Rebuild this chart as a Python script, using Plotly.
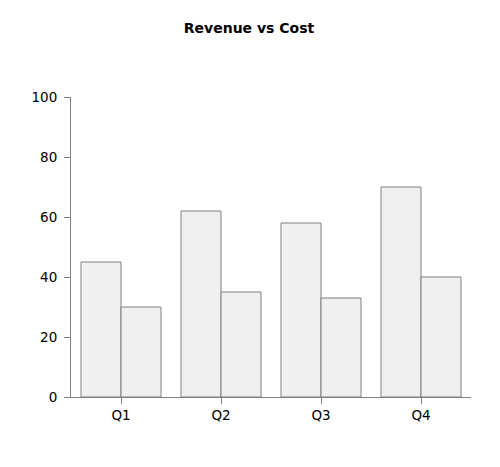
import plotly.graph_objects as go

quarters = ["Q1", "Q2", "Q3", "Q4"]
revenue = [45, 62, 58, 70]
cost = [30, 35, 33, 40]
y_ticks = [0, 20, 40, 60, 80, 100]

bar_style = dict(color="#f0f0f0", line=dict(color="#808080", width=1))

fig = go.Figure()
fig.add_trace(go.Bar(x=quarters, y=revenue, name="Revenue", marker=bar_style))
fig.add_trace(go.Bar(x=quarters, y=cost, name="Cost", marker=bar_style))

# page body adds ~8px offset, so margins are shifted to compensate
fig.update_layout(
    width=500,
    height=467,
    barmode="group",
    bargap=0.2,
    bargroupgap=0,
    showlegend=False,
    plot_bgcolor="white",
    paper_bgcolor="white",
    font=dict(family="DejaVu Sans", size=13.5, color="black"),
    title=dict(text="<b>Revenue vs Cost</b>", x=0.482, xanchor="center",
               y=1 - 20 / 467, yanchor="middle", font=dict(size=14)),
    margin=dict(l=63, r=37, t=89, b=78),
)
fig.update_xaxes(
    range=[-0.5, 3.5], showline=True, linecolor="#808080", linewidth=1,
    ticks="outside", ticklen=6, tickcolor="#808080", showgrid=False,
    ticklabelstandoff=0,
)
fig.update_yaxes(
    range=[0, 100], tickvals=y_ticks, showline=True, linecolor="#808080",
    linewidth=1, ticks="outside", ticklen=6, tickcolor="#808080",
    showgrid=False, zeroline=False, ticklabelstandoff=4,
)

fig.write_html("out.html")
